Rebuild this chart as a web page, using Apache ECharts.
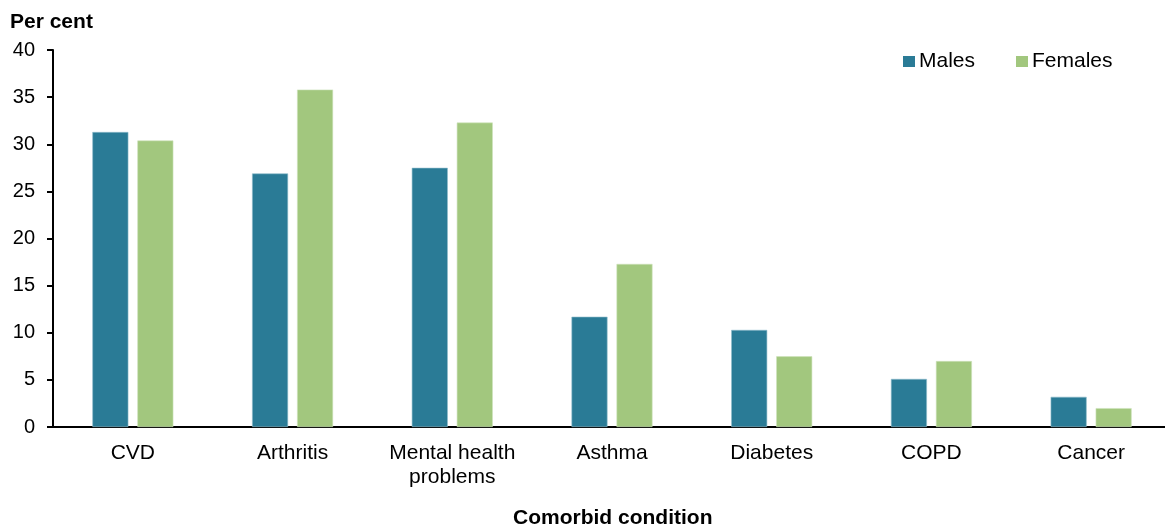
<!DOCTYPE html>
<html>
<head>
<meta charset="utf-8">
<script src="https://cdn.jsdelivr.net/npm/echarts@6/dist/echarts.min.js"></script>
<style>
  html, body { margin: 0; padding: 0; background: #fff; }
  #chart { width: 1165px; height: 528px; }
</style>
</head>
<body>
<div id="chart"></div>
<script>
// data
var categories = ['CVD', 'Arthritis', 'Mental health\nproblems', 'Asthma', 'Diabetes', 'COPD', 'Cancer'];
var males = [31.3, 26.9, 27.5, 11.7, 10.3, 5.1, 3.2];
var females = [30.4, 35.8, 32.3, 17.3, 7.5, 7.0, 2.0];
var yTicks = [0, 5, 10, 15, 20, 25, 30, 35, 40];

var font = 'Liberation Sans, Arial, sans-serif';
var chart = echarts.init(document.getElementById('chart'));

chart.setOption({
  animation: false,
  textStyle: { fontFamily: font },
  grid: { left: 53, width: 1118, top: 50, bottom: 101, outerBoundsMode: 'none' },
  legend: {
    data: ['Males', 'Females'],
    left: 903,
    top: 51,
    padding: 0,
    itemWidth: 12,
    itemHeight: 11,
    itemGap: 41,
    icon: 'rect',
    itemStyle: { borderWidth: 0 },
    textStyle: { fontSize: 21, color: '#000', fontFamily: font, padding: [0, 0, 0, -1] }
  },
  title: [
    { text: 'Per cent', left: 10, top: 12, padding: 0, textStyle: { fontSize: 21, fontWeight: 'bold', color: '#000', fontFamily: font } },
    { text: 'Comorbid condition', left: 513, top: 508, padding: 0, textStyle: { fontSize: 21, fontWeight: 'bold', color: '#000', fontFamily: font } }
  ],
  xAxis: {
    type: 'category',
    data: categories,
    axisLine: { lineStyle: { color: '#000', width: 2 } },
    axisTick: { show: false },
    axisLabel: { interval: 0, hideOverlap: false, color: '#000', fontSize: 21, margin: 14, lineHeight: 24, fontFamily: font }
  },
  yAxis: {
    type: 'value',
    min: yTicks[0],
    max: yTicks[yTicks.length - 1],
    interval: 5,
    splitLine: { show: false },
    axisLine: { show: true, lineStyle: { color: '#000', width: 2 } },
    axisTick: { show: true, length: 6, lineStyle: { color: '#000', width: 2 } },
    axisLabel: { color: '#000', fontSize: 20, margin: 18, fontFamily: font }
  },
  series: [
    {
      name: 'Males',
      type: 'bar',
      data: males,
      barWidth: 36,
      barGap: '25%',
      itemStyle: { color: '#2A7B96', borderColor: '#8FBCCB', borderWidth: 0.6 }
    },
    {
      name: 'Females',
      type: 'bar',
      data: females,
      barWidth: 36,
      itemStyle: { color: '#A2C77E', borderColor: '#CFE3BC', borderWidth: 0.6 }
    }
  ]
});
</script>
</body>
</html>
